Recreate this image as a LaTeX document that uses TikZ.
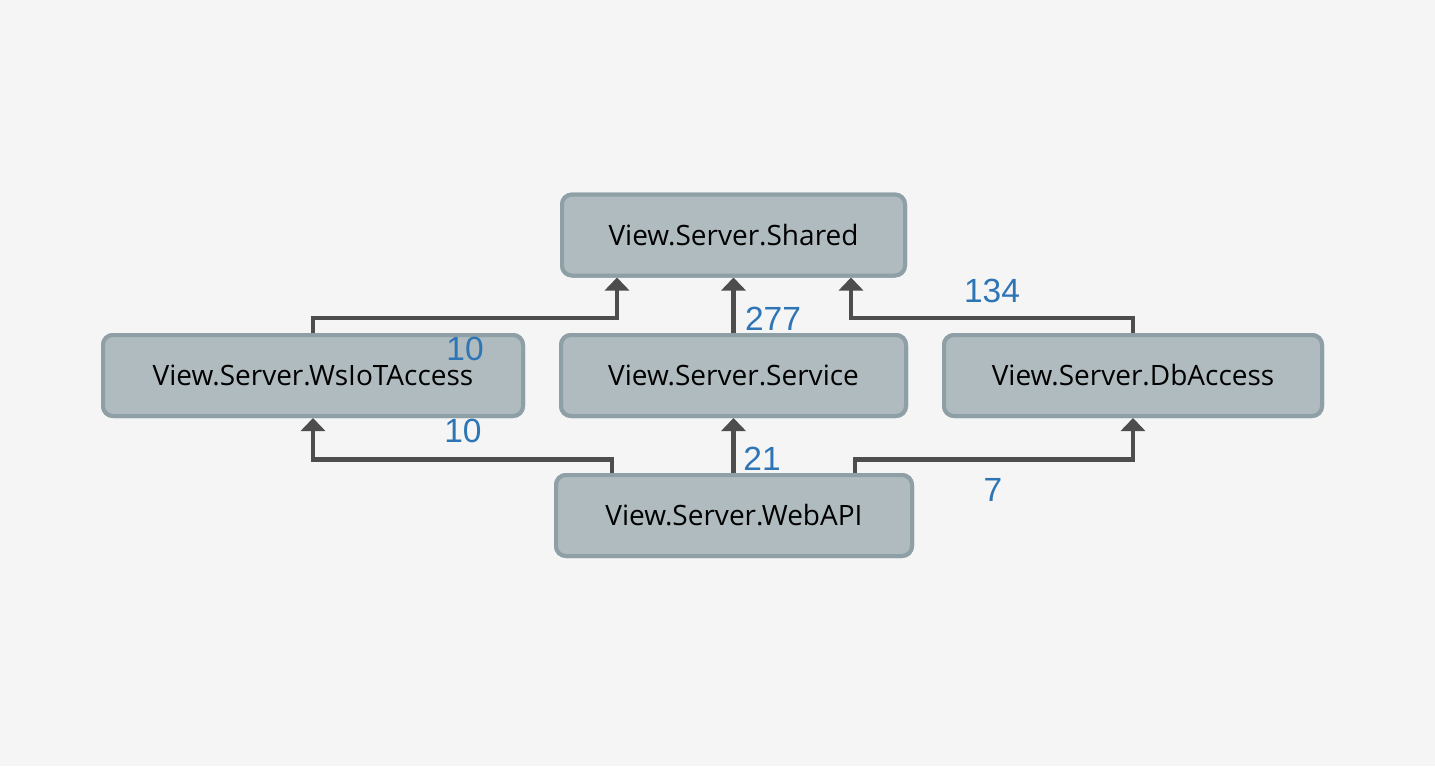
\documentclass[tikz,border=0pt]{standalone}
\usepackage{fontspec}
\setmainfont{Open Sans}
\newfontfamily\lblfont{Liberation Sans}
\usetikzlibrary{arrows.meta}
\definecolor{bgc}{HTML}{F5F5F5}
\definecolor{boxfill}{HTML}{AFBBBF}
\definecolor{boxdraw}{HTML}{8E9FA6}
\definecolor{edgec}{HTML}{4D4D4D}
\definecolor{lblc}{HTML}{2E75B6}
\tikzset{
  modbox/.style={draw=boxdraw, fill=boxfill, line width=4pt, rounded corners=10pt,
    minimum height=81pt, inner sep=0pt, font=\fontsize{28}{32}\selectfont, text=black,
    execute at begin node={\lower4pt\hbox\bgroup}, execute at end node={\egroup}},
  edge/.style={draw=edgec, line width=4.5pt, -{Triangle[width=24pt,length=13pt]}},
  elabel/.style={text=lblc, font=\lblfont\fontsize{33.5}{36}\selectfont, inner sep=0pt}
}
\begin{document}
\begin{tikzpicture}[x=1pt,y=-1pt]
\fill[bgc] (0,0) rectangle (1435,766);
\useasboundingbox (0,0) rectangle (1435,766);
% node positions (drawn below edges first, redrawn above)
\node[modbox, minimum width=343pt] (shared) at (733.5,235) {View.Server.Shared};
\node[modbox, minimum width=420pt] (ws) at (313,375.5) {View.Server.WsIoTAccess};
\node[modbox, minimum width=345pt] (svc) at (733.5,375.5) {View.Server.Service};
\node[modbox, minimum width=378pt] (db) at (1133,375.5) {View.Server.DbAccess};
\node[modbox, minimum width=356pt] (web) at (734,515.5) {View.Server.WebAPI};
% edges
\draw[edge] (ws.north) -- ++(0,-15) -| ([xshift=-116.5pt]shared.south);
\draw[edge] (svc.north) -- (svc.north |- shared.south);
\draw[edge] (db.north) -- ++(0,-15) -| ([xshift=117.5pt]shared.south);
\draw[edge] ([xshift=-122pt]web.north) -- ++(0,-13.5) -| (ws.south);
\draw[edge] (web.north -| svc.south) -- (svc.south);
\draw[edge] ([xshift=121pt]web.north) -- ++(0,-13.5) -| (db.south);
% redraw boxes above edges
\node[modbox, minimum width=343pt] at (shared) {View.Server.Shared};
\node[modbox, minimum width=420pt] at (ws) {View.Server.WsIoTAccess};
\node[modbox, minimum width=345pt] at (svc) {View.Server.Service};
\node[modbox, minimum width=378pt] at (db) {View.Server.DbAccess};
\node[modbox, minimum width=356pt] at (web) {View.Server.WebAPI};
% labels
\node[elabel] (l1) at (465,349) {10};
\node[elabel] (l2) at (773,319) {277};
\node[elabel] (l3) at (992,291) {134};
\node[elabel] (l4) at (463,431) {10};
\node[elabel] (l5) at (762,459) {21};
\node[elabel] (l6) at (993,490) {7};
\end{tikzpicture}
\end{document}
